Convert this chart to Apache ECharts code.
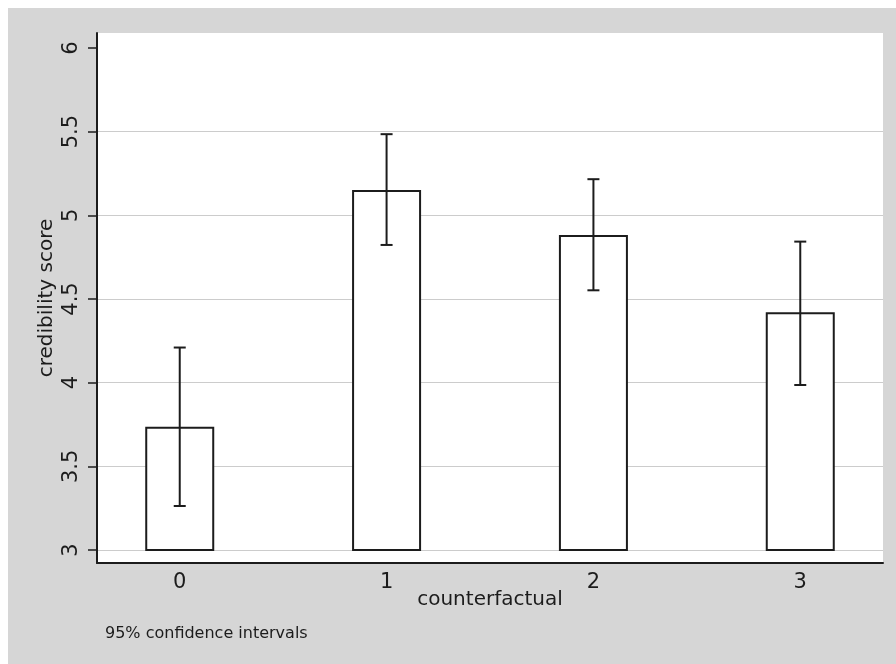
<!DOCTYPE html>
<html>
<head>
<meta charset="utf-8">
<script src="https://cdn.jsdelivr.net/npm/echarts@6/dist/echarts.min.js"></script>
<style>
  html, body { margin: 0; padding: 0; background: #ffffff; }
  #bg { position: absolute; left: 8px; top: 8px; width: 888px; height: 656px; background: #d6d6d6; }
  #chart { position: absolute; left: 0; top: 0; width: 896px; height: 664px; }
</style>
</head>
<body>
<div id="bg"></div>
<div id="chart"></div>
<script>
// ---- data ----
const categories = [0, 1, 2, 3];
const means = [3.737, 5.152, 4.883, 4.421];
const ciLow = [3.263, 4.823, 4.552, 3.986];
const ciHigh = [4.210, 5.485, 5.216, 4.843];
const yTicksMin = 3, yTicksMax = 6, yTickStep = 0.5;
const xAxisTitle = 'counterfactual';
const yAxisTitle = 'credibility score';
const noteText = '95% confidence intervals';

const FONT = 'DejaVu Sans';
const INK = '#1c1c1c';

const barData = categories.map((c, i) => [c, means[i]]);
const ciData = categories.map((c, i) => [c, ciLow[i], ciHigh[i]]);

const chart = echarts.init(document.getElementById('chart'), null, { renderer: 'canvas' });

chart.setOption({
  animation: false,
  backgroundColor: 'transparent',
  textStyle: { fontFamily: FONT, color: INK },
  title: {
    text: noteText,
    left: 100, top: 621,
    textStyle: { fontFamily: FONT, fontSize: 16, fontWeight: 'normal', color: INK }
  },
  grid: [
    // frame / plot region
    { left: 97, top: 33, right: 13, bottom: 101, show: true, backgroundColor: '#ffffff', borderWidth: 0, containLabel: false },
    // data region
    { left: 97, top: 48, right: 13, bottom: 114, containLabel: false }
  ],
  xAxis: [
    {
      gridIndex: 0, type: 'value', min: 0, max: 1,
      axisLine: { show: true, onZero: false, lineStyle: { color: INK, width: 2 } },
      axisTick: { show: false }, axisLabel: { show: false }, splitLine: { show: false },
      name: xAxisTitle, nameLocation: 'middle', nameGap: 27,
      nameTextStyle: { fontFamily: FONT, fontSize: 20, color: INK }
    },
    {
      gridIndex: 1, type: 'value', min: -0.4, max: 3.4,
      axisLine: { show: false, onZero: false }, axisTick: { show: false }, splitLine: { show: false },
      axisLabel: {
        show: true, customValues: categories, margin: 22,
        fontFamily: FONT, fontSize: 21, color: INK,
        formatter: v => String(v)
      }
    }
  ],
  yAxis: [
    {
      gridIndex: 0, type: 'value', min: 0, max: 1,
      axisLine: { show: true, onZero: false, lineStyle: { color: INK, width: 2 } },
      axisTick: { show: false }, axisLabel: { show: false }, splitLine: { show: false },
      name: yAxisTitle, nameLocation: 'middle', nameGap: 40,
      nameTextStyle: { fontFamily: FONT, fontSize: 20, color: INK }
    },
    {
      gridIndex: 1, type: 'value', min: yTicksMin, max: yTicksMax, interval: yTickStep,
      axisLine: { show: false, onZero: false },
      axisTick: { show: true, length: 9, lineStyle: { color: INK, width: 1.5 } },
      axisLabel: { show: true, rotate: 90, margin: 15, fontFamily: FONT, fontSize: 21, color: INK },
      splitLine: { show: true, showMaxLine: false, lineStyle: { color: '#cccccc', width: 1 } }
    }
  ],
  series: [
    {
      type: 'bar',
      xAxisIndex: 1, yAxisIndex: 1,
      data: barData,
      barWidth: 69,
      clip: true,
      itemStyle: { color: '#ffffff', borderColor: INK, borderWidth: 2 },
      silent: true
    },
    {
      type: 'custom',
      xAxisIndex: 1, yAxisIndex: 1,
      data: ciData,
      z: 5,
      renderItem: function (params, api) {
        const x = api.value(0);
        const lo = api.coord([x, api.value(1)]);
        const hi = api.coord([x, api.value(2)]);
        const cap = 6;
        const style = { stroke: INK, lineWidth: 2, fill: null };
        return {
          type: 'group',
          children: [
            { type: 'line', shape: { x1: lo[0], y1: lo[1], x2: hi[0], y2: hi[1] }, style: style },
            { type: 'line', shape: { x1: lo[0] - cap, y1: lo[1], x2: lo[0] + cap, y2: lo[1] }, style: style },
            { type: 'line', shape: { x1: hi[0] - cap, y1: hi[1], x2: hi[0] + cap, y2: hi[1] }, style: style }
          ]
        };
      }
    }
  ]
});
</script>
</body>
</html>
